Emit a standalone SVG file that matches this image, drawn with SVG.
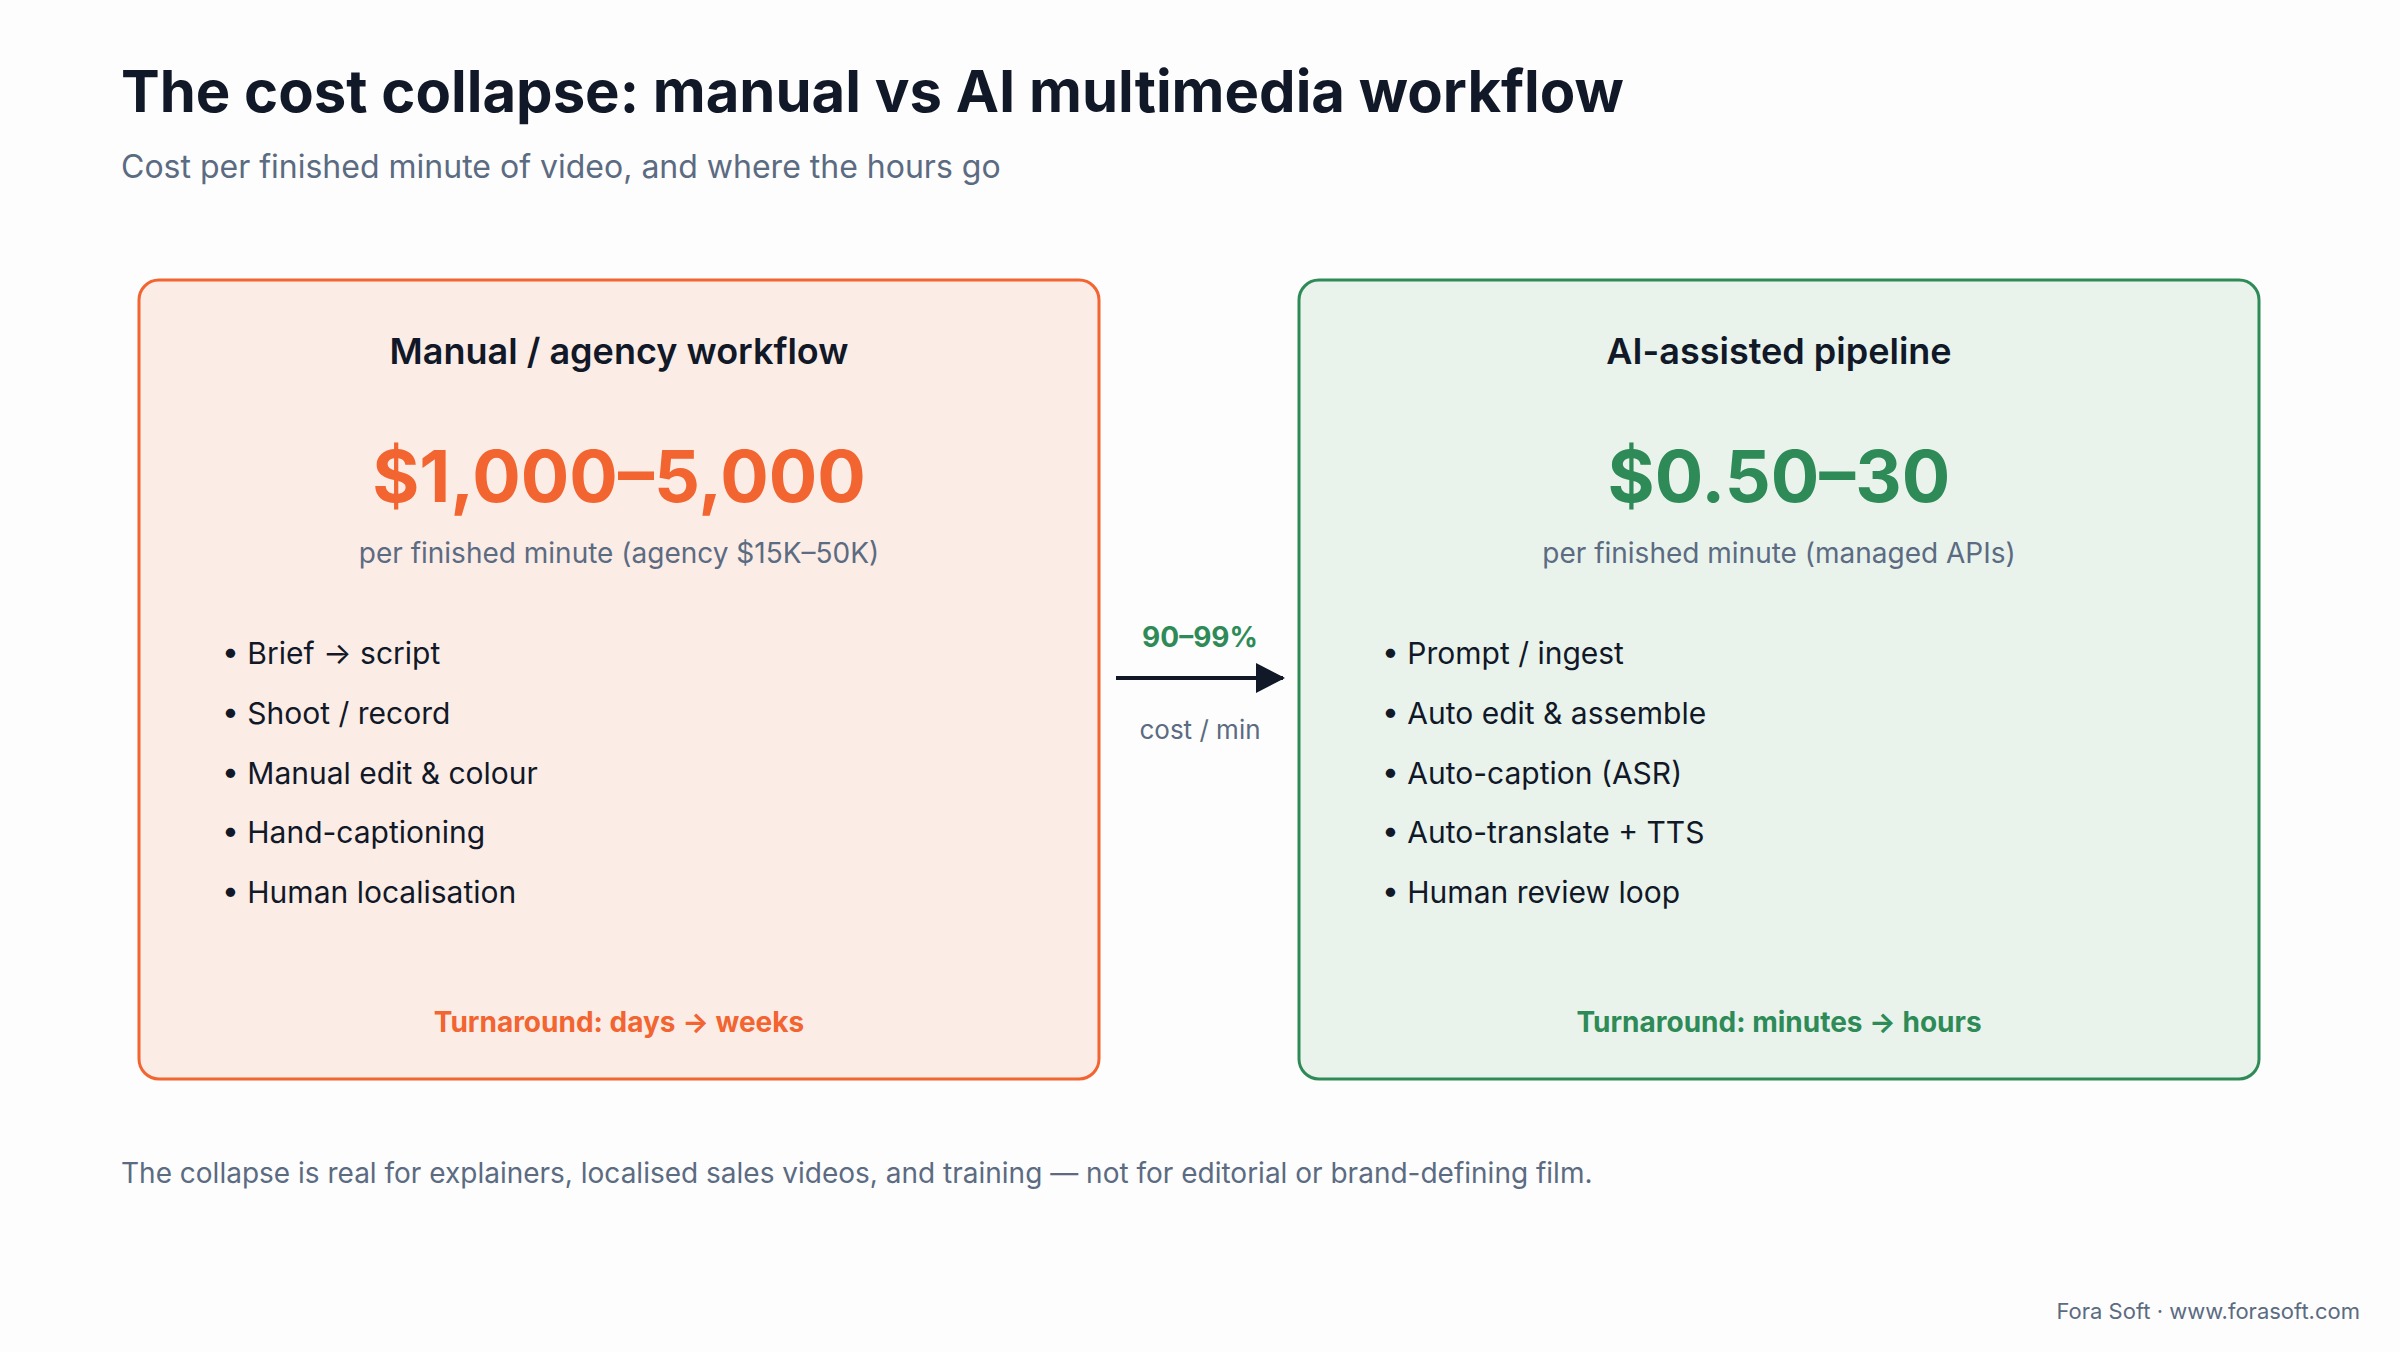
<svg xmlns="http://www.w3.org/2000/svg" width="2400" height="1352" viewBox="0 0 2400 1352">
<defs>
<style>
text{font-family:Inter,"Liberation Sans",sans-serif}
.h{font-size:36px;font-weight:600;fill:#111827;text-anchor:middle}
.p{font-size:72px;font-weight:700;text-anchor:middle}
.s{font-size:28px;fill:#5b6b82;text-anchor:middle}
.b{font-size:30px;fill:#111827}
.t{font-size:28px;font-weight:700;text-anchor:middle}
</style>
<marker id="ah" markerWidth="10" markerHeight="10" refX="9" refY="5" orient="auto" markerUnits="userSpaceOnUse" viewBox="0 0 10 10"><path d="M0,0L10,5L0,10z" fill="#111827"/></marker>
</defs>
<rect width="2400" height="1352" fill="#fdfdfd"/>
<text x="121" y="112" font-size="58" font-weight="700" fill="#111827">The cost collapse: manual vs AI multimedia workflow</text>
<text x="121" y="178" font-size="32" fill="#5b6b82">Cost per finished minute of video, and where the hours go</text>
<g id="manual">
<rect x="139" y="280" width="960" height="799" rx="20" fill="#fcece6" stroke="#f26430" stroke-width="3"/>
<text class="h" x="619" y="364">Manual / agency workflow</text>
<text class="p" x="619" y="502" fill="#f26430">$1,000–5,000</text>
<text class="s" x="619" y="563">per finished minute (agency $15K–50K)</text>
<text class="b" x="222" y="664">• Brief → script</text>
<text class="b" x="222" y="724">• Shoot / record</text>
<text class="b" x="222" y="784">• Manual edit &amp; colour</text>
<text class="b" x="222" y="843">• Hand-captioning</text>
<text class="b" x="222" y="903">• Human localisation</text>
<text class="t" x="619" y="1032" fill="#f26430">Turnaround: days → weeks</text>
</g>
<g id="ai">
<rect x="1299" y="280" width="960" height="799" rx="20" fill="#e9f3ec" stroke="#2e8b57" stroke-width="3"/>
<text class="h" x="1779" y="364">AI-assisted pipeline</text>
<text class="p" x="1779" y="502" fill="#2e8b57">$0.50–30</text>
<text class="s" x="1779" y="563">per finished minute (managed APIs)</text>
<text class="b" x="1382" y="664">• Prompt / ingest</text>
<text class="b" x="1382" y="724">• Auto edit &amp; assemble</text>
<text class="b" x="1382" y="784">• Auto-caption (ASR)</text>
<text class="b" x="1382" y="843">• Auto-translate + TTS</text>
<text class="b" x="1382" y="903">• Human review loop</text>
<text class="t" x="1779" y="1032" fill="#2e8b57">Turnaround: minutes → hours</text>
</g>
<g id="connectors">
<line x1="1116" y1="678" x2="1283" y2="678" stroke="#111827" stroke-width="4" marker-end="url(#ah)"/>
<path d="M1256,663L1285,678L1256,693z" fill="#111827"/>
<text class="t" x="1200" y="647" fill="#2e8b57">90–99%</text>
<text x="1200" y="739" font-size="26" fill="#5b6b82" text-anchor="middle">cost / min</text>
</g>
<text x="121" y="1183" font-size="28" fill="#5b6b82">The collapse is real for explainers, localised sales videos, and training — not for editorial or brand-defining film.</text>
<text x="2360" y="1319" font-size="22" fill="#5b6b82" text-anchor="end">Fora Soft · www.forasoft.com</text>
</svg>
